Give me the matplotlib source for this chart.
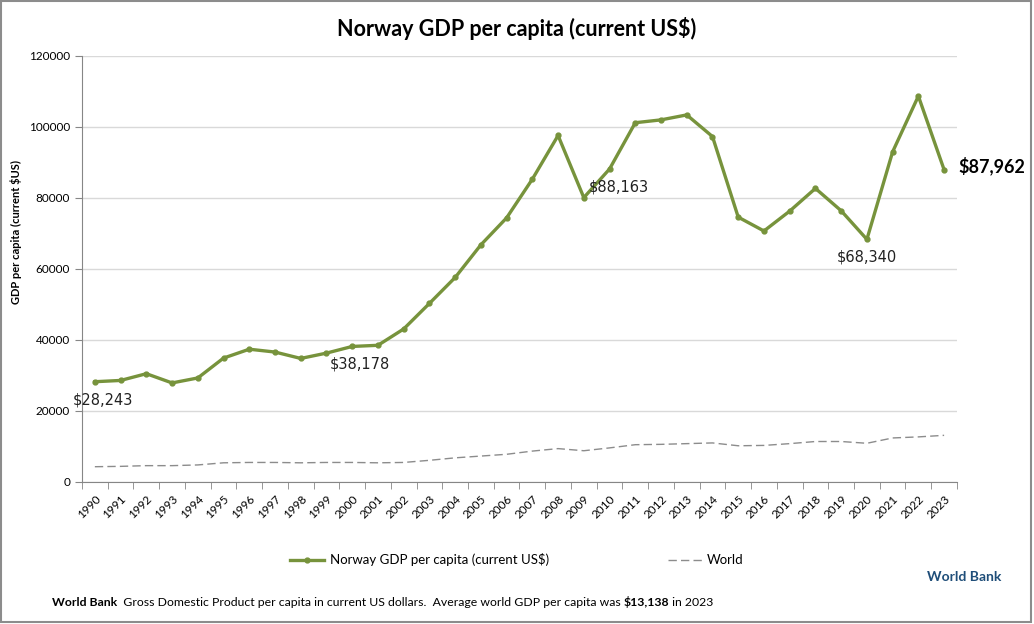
import matplotlib.pyplot as plt
import matplotlib.patches as patches
import numpy as np

plt.rcParams['text.parse_math'] = False
plt.rcParams['font.family'] = ['Lato', 'DejaVu Sans']

years = list(range(1990, 2024))
norway = [28243, 28600, 30500, 27900, 29300, 34900, 37400, 36600, 34800, 36300,
          38178, 38500, 43100, 50300, 57600, 66800, 74400, 85300, 97600, 80100,
          88163, 101200, 102000, 103400, 97300, 74600, 70700, 76300, 82700, 76400,
          68340, 93000, 108700, 87962]
world = [4300, 4400, 4600, 4600, 4800, 5400, 5500, 5500, 5400, 5500,
         5500, 5400, 5500, 6100, 6800, 7300, 7800, 8700, 9400, 8800,
         9600, 10500, 10600, 10800, 11000, 10200, 10300, 10800, 11400, 11400,
         10900, 12400, 12700, 13138]
labelled = {1990: (8, -18), 2000: (8, -18), 2010: (9, -18), 2020: (0, -18)}

green = '#77933C'
fig = plt.figure(figsize=(10.34, 6.24), dpi=100)
ax = fig.add_axes([0.0793, 0.2276, 0.8462, 0.6827])
x = np.arange(len(years))

ax.plot(x, norway, color=green, lw=2.4, marker='o', ms=3.5,
        label='Norway GDP per capita (current US$)', zorder=3)
ax.plot(x, world, color='#8c8c8c', lw=1, dashes=(6, 3), label='World', zorder=2)

# value labels
for yr, off in labelled.items():
    i = years.index(yr)
    ax.annotate(f"${norway[i]:,}", (x[i], norway[i]), xytext=off,
                textcoords='offset pixels', ha='center', va='center',
                fontsize=10.5, family=['DejaVu Sans'], color='#222222')
ax.annotate(f"${norway[-1]:,}", (x[-1], norway[-1]), xytext=(14, 4),
            textcoords='offset pixels', ha='left', va='center',
            fontsize=13, fontweight='bold', annotation_clip=False)

ax.set_xlim(-0.5, len(years) - 0.5)
ax.set_ylim(0, 120000)
ax.set_yticks(range(0, 120001, 20000))
ax.set_xticks(x)
ax.set_xticklabels([str(y) for y in years], rotation=45, ha='right',
                   rotation_mode='anchor', fontsize=8.5)
ax.set_xticks(np.arange(-0.5, len(years)), minor=True)
ax.tick_params(axis='x', which='major', length=0, pad=8)
ax.tick_params(axis='x', which='minor', length=5, color='#868686')
ax.tick_params(axis='y', length=5, color='#868686', labelsize=8.5)
ax.grid(axis='y', color='#d9d9d9', lw=1)
ax.set_axisbelow(True)
for s in ['top', 'right']:
    ax.spines[s].set_visible(False)
for s in ['left', 'bottom']:
    ax.spines[s].set_color('#868686')
ax.set_ylabel('GDP per capita (current $US)', fontsize=8, fontweight='bold')
ax.yaxis.set_label_coords(-0.068, 0.587)

fig.text(0.5, 0.955, 'Norway GDP per capita (current US$)', ha='center', va='center',
         fontsize=15.5, fontweight='bold')

fig.legend(loc='center', bbox_to_anchor=(0.5, 0.103), ncol=2, frameon=False,
           fontsize=9.5, handlelength=2.6, columnspacing=9, handletextpad=0.4)

fig.text(0.968, 0.075, 'World Bank', ha='right', va='center', fontsize=10,
         fontweight='bold', color='#1F4E79')

# footer note, pieces chained one after another
pieces = [('World Bank', 'bold'),
          ('  Gross Domestic Product per capita in current US dollars.  Average world GDP per capita was ', 'normal'),
          (f"${world[-1]:,}", 'bold'),
          (' in 2023', 'normal')]
prev = fig.text(0.05, 0.035, pieces[0][0], ha='left', va='center', fontsize=8.8,
                fontweight=pieces[0][1])
for txt, w in pieces[1:]:
    prev = ax.annotate(txt, xy=(1, 0.5), xycoords=prev, va='center', ha='left',
                       fontsize=8.8, fontweight=w, annotation_clip=False)

fig.add_artist(patches.Rectangle((0.001, 0.003), 0.996, 0.995, transform=fig.transFigure,
                                 fill=False, ec='#8c8c8c', lw=1.5))

fig.savefig('out.png', dpi=100)
